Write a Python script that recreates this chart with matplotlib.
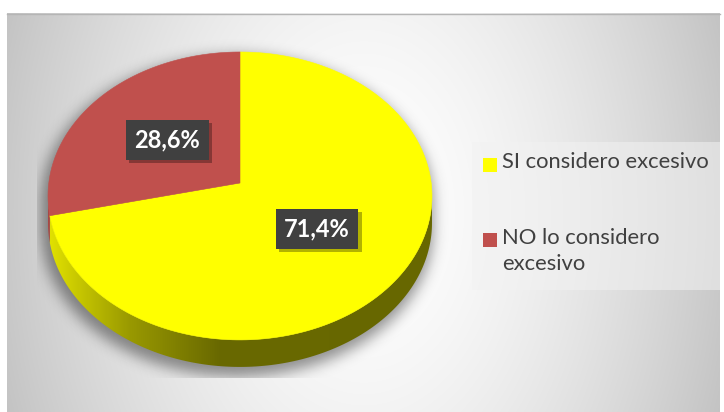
import numpy as np
import matplotlib.pyplot as plt
from matplotlib.patches import Polygon, Rectangle
from matplotlib.path import Path
import matplotlib.patheffects as pe

categories = ["SI considero excesivo", "NO lo considero\nexcesivo"]
shares = [71.4, 28.6]
pct_labels = ["71,4%", "28,6%"]
colors = ["#ffff00", "#c0504d"]

W, H = 724, 412
fig = plt.figure(figsize=(W / 100, H / 100), dpi=100)
ax = fig.add_axes([0, 0, 1, 1])
ax.set_xlim(0, W)
ax.set_ylim(H, 0)
ax.axis("off")

# chart area with soft radial gradient
x0, x1, y0, y1 = 7, 720, 13, 412
gx, gy = np.meshgrid(np.arange(x0, x1) + 0.5, np.arange(y0, y1) + 0.5)
t = np.sqrt(((gx - 364) / 357) ** 2 + ((gy - 212) / 520) ** 2)
g = 1 - 0.21 * np.clip(t, 0, 1.2) ** 1.6
ax.imshow(np.dstack([g, g, g]), extent=(x0, x1, y1, y0), aspect="auto", zorder=0)
ax.plot([x0, x1], [y0 + 0.5, y0 + 0.5], color="#b5b5b5", lw=1, zorder=1)

# tilted pie with perspective
cx, cy = 240, 183
sx, sy = 191.2, 142.8
k = 0.09
depth = 27


def project(theta, r=1.0, drop=0.0):
    th = np.radians(theta)
    u, v = r * np.cos(th), r * np.sin(th)
    den = 1 + k * v
    return cx + sx * u / den, cy - sy * v / den + drop


def arc(a, b, drop=0.0, n=200):
    px, py = project(np.linspace(a, b, n), drop=drop)
    return np.column_stack([px, py])


edge = np.degrees(np.arcsin(k))
vis_a, vis_b = -180 + edge, -edge

# shadow under the pie
sil = np.vstack([arc(vis_b, vis_a + 360), arc(vis_a, vis_b, drop=depth)])
sil_s = (sil - [cx, cy]) * 1.02 + [cx - 3, cy + 6]
px, py = np.meshgrid(np.arange(W) + 0.5, np.arange(H) + 0.5)
mask = Path(sil_s).contains_points(np.column_stack([px.ravel(), py.ravel()])).reshape(H, W).astype(float)
kx = np.arange(-24, 25)
kern = np.exp(-kx ** 2 / (2 * 7.0 ** 2))
kern /= kern.sum()
mask = np.apply_along_axis(lambda r: np.convolve(r, kern, mode="same"), 1, mask)
mask = np.apply_along_axis(lambda c: np.convolve(c, kern, mode="same"), 0, mask)
mask[(py > 378) | (px < 37)] = 0
shadow = np.zeros((H, W, 4))
shadow[..., 3] = mask * 0.42
ax.imshow(shadow, extent=(0, W, H, 0), aspect="auto", zorder=2)

# slice angles, clockwise from 12 o'clock
cum = np.concatenate([[0], np.cumsum(shares)]) / np.sum(shares) * 360
spans = [(90 - cum[i + 1], 90 - cum[i]) for i in range(len(shares))]

shade_x = np.arange(W) + 0.5
shade = np.interp(shade_x, [50, 130, 220, W], [0.88, 0.6, 0.41, 0.4])

for (a, b), col in zip(spans, colors):
    rgb = np.array(plt.matplotlib.colors.to_rgb(col))
    for off in (0, -360, 360):
        lo, hi = max(a + off, vis_a), min(b + off, vis_b)
        if hi <= lo:
            continue
        side = np.vstack([arc(lo, hi), arc(hi, lo, drop=depth)])
        patch = Polygon(side, closed=True, facecolor="none", edgecolor="none")
        ax.add_patch(patch)
        img = shade[None, :, None] * rgb[None, None, :]
        im = ax.imshow(img, extent=(0, W, H, 0), aspect="auto", zorder=3)
        im.set_clip_path(patch)

for (a, b), col in zip(spans, colors):
    top = np.vstack([[cx, cy], arc(a, b)])
    ax.add_patch(Polygon(top, closed=True, facecolor=col, edgecolor=col, lw=0.4, zorder=4))

# data labels
for (a, b), lab in zip(spans, pct_labels):
    lx, ly = project((a + b) / 2, r=0.5)
    txt = ax.text(lx, ly, lab, fontsize=17, fontweight="bold", family="Lato",
                  color="white", ha="center", va="center", zorder=6,
                  bbox=dict(boxstyle="square,pad=0.36", fc="#404040", ec="none"))
    txt.get_bbox_patch().set_path_effects(
        [pe.SimplePatchShadow(offset=(2.5, -2.5), shadow_rgbFace="black", alpha=0.3), pe.Normal()])

# legend
ax.add_patch(Rectangle((472, 142), 248, 148, facecolor="#f2f2f2", alpha=0.55,
                       edgecolor="none", zorder=5))
entry_y = [165, 240]
for name, col, ey in zip(categories, colors, entry_y):
    ax.add_patch(Rectangle((483, ey - 7), 14, 14, facecolor=col, edgecolor="none", zorder=6))
    ax.text(502, ey - 12.5, name, fontsize=15.8, family="Lato", color="#404040",
            ha="left", va="top", linespacing=1.4, zorder=6)

fig.savefig("out.png", dpi=100)
